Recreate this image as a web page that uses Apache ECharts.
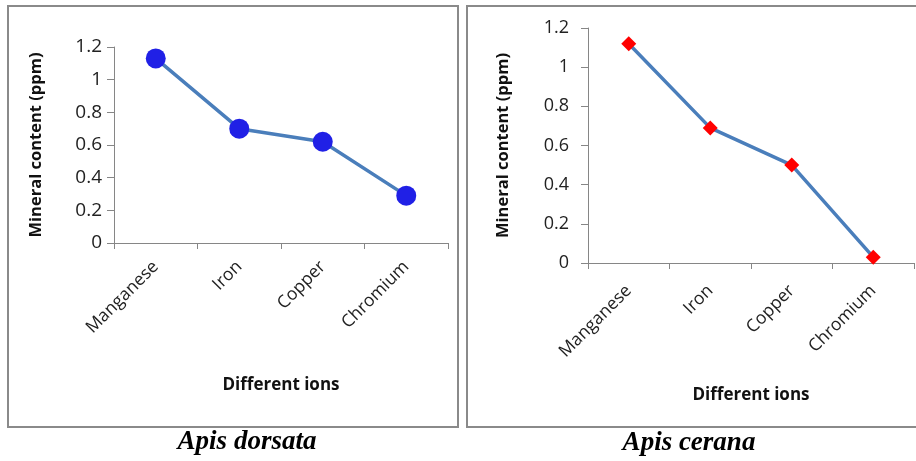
<!DOCTYPE html>
<html>
<head>
<meta charset="utf-8">
<script src="https://cdn.jsdelivr.net/npm/echarts@6/dist/echarts.min.js"></script>
<style>
  html, body { margin: 0; padding: 0; background: #fff; }
  #chart { width: 916px; height: 461px; }
</style>
</head>
<body>
<div id="chart"></div>
<script>
const ions = ['Manganese', 'Iron', 'Copper', 'Chromium']
const dorsata = [1.13, 0.70, 0.62, 0.29]
const cerana = [1.12, 0.69, 0.50, 0.03]
const yTicks = [0, 0.2, 0.4, 0.6, 0.8, 1, 1.2]

const FONT = '"Open Sans", sans-serif'
const SERIF = '"Liberation Serif", serif'
const axisGray = '#868686'
const lineBlue = '#4a7ebb'

const chart = echarts.init(document.getElementById('chart'))

function xAxisOf(gridIndex, gap, margin) {
  return {
    type: 'category', gridIndex, data: ions,
    name: 'Different ions', nameLocation: 'middle', nameGap: gap,
    nameTextStyle: { fontFamily: FONT, fontSize: 17, fontWeight: 'bold', color: '#111' },
    axisLine: { lineStyle: { color: axisGray, width: 1 } },
    axisTick: { show: true, length: 6, lineStyle: { color: axisGray } },
    axisLabel: { rotate: 45, margin, fontFamily: FONT, fontSize: 17.5, color: '#222' },
    splitLine: { show: false }
  }
}

function yAxisOf(gridIndex, gap, size, margin) {
  return {
    type: 'value', gridIndex, min: 0, max: 1.2, interval: 0.2,
    name: 'Mineral content (ppm)', nameLocation: 'middle', nameGap: gap, nameRotate: 90,
    nameTextStyle: { fontFamily: FONT, fontSize: 16.5, fontWeight: 'bold', color: '#111' },
    axisLine: { show: true, lineStyle: { color: axisGray, width: 1 } },
    axisTick: { show: true, length: 7, lineStyle: { color: axisGray } },
    axisLabel: {
      fontFamily: FONT, fontSize: size, color: '#222', margin,
      formatter: v => yTicks.includes(+v.toFixed(1)) ? String(+v.toFixed(1)) : ''
    },
    splitLine: { show: false }
  }
}

const captionStyle = { fontFamily: SERIF, fontStyle: 'italic', fontWeight: 'bold', fontSize: 27, fill: '#000', align: 'center', verticalAlign: 'middle' }

chart.setOption({
  animation: false,
  backgroundColor: '#fff',
  graphic: [
    { type: 'rect', shape: { x: 8, y: 6, width: 450, height: 421 }, style: { fill: 'none', stroke: '#8a8a8a', lineWidth: 2 } },
    { type: 'rect', shape: { x: 467, y: 6, width: 470, height: 421 }, style: { fill: 'none', stroke: '#8a8a8a', lineWidth: 2 } },
    { type: 'text', x: 247, y: 442, style: Object.assign({ text: 'Apis dorsata' }, captionStyle) },
    { type: 'text', x: 689, y: 443, style: Object.assign({ text: 'Apis cerana' }, captionStyle) }
  ],
  grid: [
    { left: 114, top: 47, width: 334, height: 196 },
    { left: 588, top: 28, width: 326, height: 235 }
  ],
  xAxis: [xAxisOf(0, 134, 21), xAxisOf(1, 124, 25)],
  yAxis: [yAxisOf(0, 69, 19, 12), yAxisOf(1, 76, 18, 19)],
  series: [
    {
      type: 'line', xAxisIndex: 0, yAxisIndex: 0, data: dorsata,
      symbol: 'circle', symbolSize: 20,
      lineStyle: { color: lineBlue, width: 3.5 },
      itemStyle: { color: '#2020e6' }
    },
    {
      type: 'line', xAxisIndex: 1, yAxisIndex: 1, data: cerana,
      symbol: 'diamond', symbolSize: 15,
      lineStyle: { color: lineBlue, width: 3.5 },
      itemStyle: { color: '#ff0000' }
    }
  ]
})
</script>
</body>
</html>
